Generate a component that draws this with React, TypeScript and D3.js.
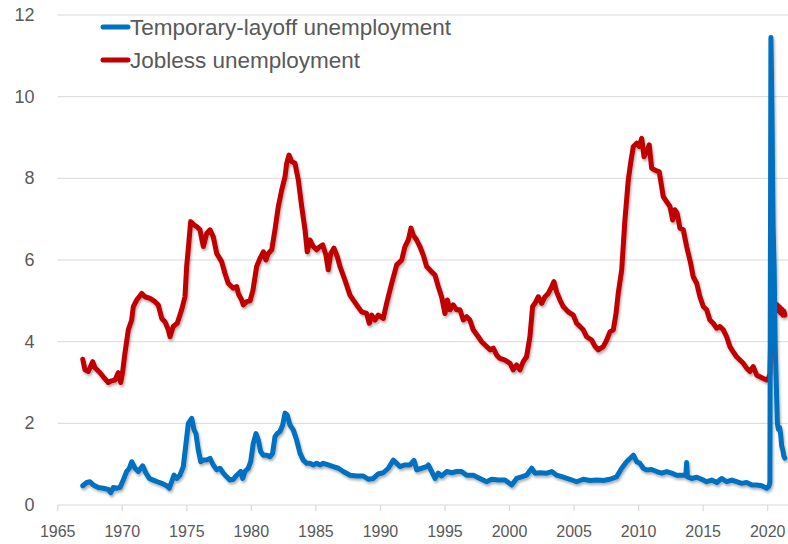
import React from "react";
import * as d3 from "d3";

const seriesNames = ["Temporary-layoff unemployment", "Jobless unemployment"];
const seriesColors = ["#0070c0", "#c00000"];

const xTickYears = [1965, 1970, 1975, 1980, 1985, 1990, 1995, 2000, 2005, 2010, 2015, 2020];
const yTickValues = [0, 2, 4, 6, 8, 10, 12];

const joblessYears = [
  1966.94, 1967.11, 1967.37, 1967.71, 1967.89, 1968.28, 1968.53, 1968.92, 1969.18, 1969.44,
  1969.69, 1969.88, 1970.03, 1970.21, 1970.47, 1970.73, 1970.86, 1971.12, 1971.51, 1971.76,
  1972.15, 1972.54, 1972.79, 1973.06, 1973.31, 1973.57, 1973.7, 1973.95, 1974.26, 1974.6,
  1974.86, 1974.99, 1975.12, 1975.3, 1975.56, 1975.77, 1976.02, 1976.28, 1976.54, 1976.8,
  1977.05, 1977.32, 1977.7, 1977.96, 1978.21, 1978.6, 1978.87, 1978.99, 1979.25, 1979.38,
  1979.64, 1979.9, 1980.12, 1980.41, 1980.67, 1980.93, 1981.13, 1981.31, 1981.58, 1981.83,
  1982.09, 1982.35, 1982.61, 1982.74, 1982.92, 1983.13, 1983.38, 1983.64, 1983.9, 1984.16,
  1984.33, 1984.54, 1984.8, 1985.06, 1985.32, 1985.53, 1985.78, 1985.96, 1986.15, 1986.4,
  1986.66, 1986.87, 1987.25, 1987.64, 1988.16, 1988.55, 1988.93, 1989.14, 1989.32, 1989.58,
  1989.83, 1990.22, 1990.48, 1990.87, 1991.26, 1991.65, 1991.9, 1992.16, 1992.37, 1992.54,
  1992.81, 1993.06, 1993.32, 1993.58, 1993.97, 1994.23, 1994.48, 1994.74, 1995.0, 1995.18,
  1995.39, 1995.64, 1995.9, 1996.16, 1996.42, 1996.68, 1996.93, 1997.19, 1997.58, 1997.84,
  1998.23, 1998.49, 1998.74, 1999.01, 1999.26, 1999.65, 2000.04, 2000.29, 2000.55, 2000.81,
  2001.06, 2001.32, 2001.58, 2001.79, 2001.97, 2002.23, 2002.49, 2002.75, 2003.0, 2003.27,
  2003.44, 2003.65, 2003.91, 2004.16, 2004.55, 2004.94, 2005.2, 2005.46, 2005.71, 2005.98,
  2006.36, 2006.63, 2006.87, 2007.26, 2007.53, 2007.78, 2008.04, 2008.25, 2008.42, 2008.69,
  2008.94, 2009.2, 2009.38, 2009.59, 2009.85, 2010.05, 2010.24, 2010.42, 2010.62, 2010.82,
  2011.01, 2011.26, 2011.6, 2011.91, 2012.17, 2012.43, 2012.64, 2012.81, 2012.99, 2013.2,
  2013.46, 2013.72, 2014.03, 2014.23, 2014.5, 2014.75, 2015.01, 2015.27, 2015.52, 2015.78,
  2016.05, 2016.3, 2016.56, 2016.82, 2017.07, 2017.33, 2017.59, 2017.85, 2018.11, 2018.37,
  2018.63, 2018.88, 2019.15, 2019.4, 2019.66, 2019.92, 2020.04, 2020.17, 2020.25, 2020.33,
  2020.42, 2020.5, 2020.58, 2020.67, 2020.75, 2020.83, 2020.92, 2021.0, 2021.08, 2021.17,
  2021.25, 2021.33,
];
const joblessValues = [
  3.57, 3.31, 3.27, 3.51, 3.36, 3.24, 3.14, 3.0, 3.04, 3.06,
  3.24, 3.0, 3.26, 3.72, 4.29, 4.53, 4.86, 5.02, 5.18, 5.1,
  5.06, 4.98, 4.9, 4.57, 4.49, 4.29, 4.12, 4.37, 4.45, 4.78,
  5.1, 5.84, 6.29, 6.94, 6.86, 6.82, 6.74, 6.33, 6.65, 6.74,
  6.57, 6.16, 5.96, 5.67, 5.43, 5.31, 5.35, 5.18, 5.02, 4.9,
  4.98, 5.0, 5.25, 5.84, 6.04, 6.2, 6.0, 6.16, 6.25, 6.74,
  7.31, 7.71, 8.04, 8.37, 8.57, 8.41, 8.37, 7.96, 7.31, 6.74,
  6.2, 6.49, 6.33, 6.25, 6.33, 6.37, 6.12, 5.76, 6.16, 6.29,
  6.08, 5.84, 5.51, 5.14, 4.9, 4.73, 4.69, 4.45, 4.65, 4.53,
  4.65, 4.57, 4.94, 5.43, 5.88, 6.0, 6.33, 6.49, 6.78, 6.61,
  6.49, 6.33, 6.12, 5.84, 5.71, 5.63, 5.35, 5.1, 4.69, 5.02,
  4.78, 4.9, 4.78, 4.78, 4.53, 4.61, 4.53, 4.29, 4.12, 4.0,
  3.88, 3.8, 3.84, 3.67, 3.59, 3.55, 3.47, 3.31, 3.43, 3.31,
  3.51, 3.63, 4.12, 4.86, 4.94, 5.1, 4.94, 5.1, 5.18, 5.35,
  5.47, 5.22, 5.02, 4.86, 4.73, 4.65, 4.45, 4.37, 4.29, 4.12,
  4.04, 3.88, 3.8, 3.88, 4.04, 4.24, 4.29, 4.69, 5.18, 5.76,
  6.98, 7.96, 8.37, 8.78, 8.86, 8.78, 8.98, 8.53, 8.65, 8.82,
  8.25, 8.2, 8.16, 7.55, 7.43, 7.31, 6.98, 7.23, 7.14, 6.78,
  6.74, 6.33, 5.92, 5.59, 5.43, 5.1, 4.86, 4.78, 4.53, 4.45,
  4.33, 4.37, 4.29, 4.12, 3.88, 3.75, 3.63, 3.55, 3.47, 3.35,
  3.27, 3.39, 3.18, 3.14, 3.1, 3.06, 3.1, 3.2, 4.3, 4.5,
  4.6, 4.85, 4.95, 4.8, 4.9, 4.75, 4.85, 4.7, 4.8, 4.65,
  4.75, 4.65,
];

const layoffYears = [
  1966.94, 1967.25, 1967.5, 1967.76, 1968.14, 1968.53, 1968.92, 1969.11, 1969.31, 1969.57,
  1969.83, 1970.08, 1970.34, 1970.55, 1970.73, 1970.99, 1971.24, 1971.58, 1971.84, 1972.1,
  1972.4, 1972.72, 1973.06, 1973.44, 1973.64, 1973.83, 1974.01, 1974.22, 1974.47, 1974.73,
  1974.94, 1975.12, 1975.38, 1975.56, 1975.71, 1975.89, 1976.08, 1976.28, 1976.54, 1976.8,
  1977.05, 1977.32, 1977.57, 1977.83, 1978.09, 1978.35, 1978.6, 1978.87, 1979.17, 1979.33,
  1979.51, 1979.76, 1979.95, 1980.15, 1980.36, 1980.54, 1980.72, 1980.93, 1981.19, 1981.44,
  1981.65, 1981.83, 1982.01, 1982.22, 1982.43, 1982.61, 1982.78, 1982.99, 1983.25, 1983.51,
  1983.77, 1984.02, 1984.29, 1984.54, 1984.8, 1985.06, 1985.32, 1985.57, 1985.96, 1986.35,
  1986.74, 1987.12, 1987.64, 1988.16, 1988.67, 1989.06, 1989.45, 1989.83, 1990.22, 1990.61,
  1991.0, 1991.26, 1991.51, 1991.9, 1992.28, 1992.6, 1992.81, 1993.2, 1993.58, 1993.71,
  1993.97, 1994.23, 1994.48, 1994.74, 1995.13, 1995.52, 1995.9, 1996.29, 1996.68, 1997.19,
  1997.71, 1998.23, 1998.62, 1999.13, 1999.65, 2000.17, 2000.55, 2000.94, 2001.32, 2001.72,
  2001.97, 2002.36, 2002.88, 2003.27, 2003.65, 2004.16, 2004.68, 2005.2, 2005.71, 2006.23,
  2006.75, 2007.26, 2007.78, 2008.3, 2008.69, 2009.07, 2009.33, 2009.59, 2009.85, 2010.1,
  2010.36, 2010.62, 2011.01, 2011.4, 2011.79, 2012.17, 2012.56, 2012.95, 2013.34, 2013.66,
  2013.72, 2013.78, 2014.11, 2014.5, 2014.88, 2015.27, 2015.66, 2016.05, 2016.43, 2016.82,
  2017.21, 2017.59, 2017.98, 2018.37, 2018.76, 2019.15, 2019.53, 2019.92, 2020.08, 2020.17,
  2020.25, 2020.33, 2020.42, 2020.5, 2020.58, 2020.67, 2020.75, 2020.83, 2020.92, 2021.0,
  2021.08, 2021.17, 2021.25, 2021.33,
];
const layoffValues = [
  0.47, 0.55, 0.57, 0.49, 0.43, 0.41, 0.38, 0.3, 0.43, 0.41,
  0.43, 0.61, 0.82, 0.9, 1.06, 0.9, 0.82, 0.96, 0.78, 0.65,
  0.61, 0.57, 0.53, 0.47, 0.41, 0.57, 0.73, 0.65, 0.73, 0.94,
  1.51, 2.0, 2.12, 1.84, 1.75, 1.35, 1.06, 1.1, 1.1, 1.14,
  0.98, 0.86, 0.9, 0.78, 0.69, 0.61, 0.63, 0.73, 0.82, 0.65,
  0.82, 0.9, 1.06, 1.51, 1.75, 1.59, 1.31, 1.22, 1.22, 1.18,
  1.27, 1.67, 1.75, 1.8, 1.96, 2.25, 2.2, 1.96, 1.84, 1.59,
  1.27, 1.1, 1.02, 1.02, 0.98, 1.02, 0.98, 1.02, 0.98, 0.94,
  0.9, 0.82, 0.73, 0.71, 0.71, 0.63, 0.65, 0.76, 0.79, 0.9,
  1.1, 1.02, 0.94, 0.98, 0.98, 1.09, 0.86, 0.9, 0.94, 0.98,
  0.82, 0.65, 0.78, 0.71, 0.82, 0.79, 0.82, 0.82, 0.73, 0.73,
  0.65, 0.57, 0.63, 0.61, 0.61, 0.49, 0.65, 0.69, 0.73, 0.9,
  0.78, 0.79, 0.78, 0.82, 0.73, 0.68, 0.63, 0.57, 0.63, 0.6,
  0.61, 0.6, 0.63, 0.69, 0.9, 1.06, 1.14, 1.22, 1.06, 1.02,
  0.9, 0.86, 0.87, 0.82, 0.78, 0.82, 0.78, 0.73, 0.73, 0.73,
  1.04, 0.69, 0.65, 0.68, 0.63, 0.57, 0.61, 0.55, 0.65, 0.57,
  0.61, 0.57, 0.53, 0.55, 0.49, 0.49, 0.47, 0.41, 0.45, 0.55,
  11.45, 9.7, 6.8, 5.8, 3.9, 2.9, 2.0, 1.85, 1.9, 1.75,
  1.45, 1.35, 1.2, 1.15,
];

const W = 788;
const H = 544;
const FONT = "'Liberation Sans', Arial, sans-serif";

export default function App() {
  const x = d3.scaleLinear().domain([1965, 2020]).range([57.7, 767.7]);
  const y = d3.scaleLinear().domain([0, 12]).range([505, 15]);
  const plotRight = 788;

  const line = d3
    .line<[number, number]>()
    .x((d) => x(d[0]))
    .y((d) => y(d[1]))
    .curve(d3.curveLinear);

  const jobless: [number, number][] = joblessYears.map((yr, i) => [yr, joblessValues[i]]);
  const layoff: [number, number][] = layoffYears.map((yr, i) => [yr, layoffValues[i]]);

  return (
    <svg
      width={W}
      height={H}
      style={{ position: "absolute", left: 0, top: 0, background: "#fff" }}
      fontFamily={FONT}
    >
      <defs>
        <filter id="shadow" x="-5%" y="-5%" width="110%" height="115%">
          <feDropShadow dx="1.2" dy="2.2" stdDeviation="1.3" floodColor="#000" floodOpacity="0.3" />
        </filter>
      </defs>
      <rect x={0} y={0} width={W} height={H} fill="#fff" />
      {yTickValues.map((v) => (
        <g key={"gy" + v}>
          {v > 0 && (
            <line x1={x(1965)} x2={plotRight} y1={y(v)} y2={y(v)} stroke="#d9d9d9" strokeWidth={1} />
          )}
          <text
            x={34.5}
            y={y(v)}
            textAnchor="end"
            dominantBaseline="central"
            fontSize={18}
            fill="#595959"
          >
            {v}
          </text>
        </g>
      ))}
      <line x1={x(1965)} x2={plotRight} y1={y(0)} y2={y(0)} stroke="#d9d9d9" strokeWidth={1.2} />
      {xTickYears.map((yr) => (
        <g key={"gx" + yr}>
          <line x1={x(yr)} x2={x(yr)} y1={y(0)} y2={y(0) + 6} stroke="#d9d9d9" strokeWidth={1.2} />
          <text x={x(yr)} y={536.5} textAnchor="middle" fontSize={16} fill="#595959">
            {yr}
          </text>
        </g>
      ))}
      <g filter="url(#shadow)">
        <path
          d={line(jobless) || ""}
          fill="none"
          stroke={seriesColors[1]}
          strokeWidth={5}
          strokeLinejoin="round"
          strokeLinecap="round"
        />
        <path
          d={line(layoff) || ""}
          fill="none"
          stroke={seriesColors[0]}
          strokeWidth={5}
          strokeLinejoin="round"
          strokeLinecap="round"
        />
      </g>
      {seriesNames.map((name, i) => (
        <g key={name}>
          <line
            x1={103}
            x2={128}
            y1={27 + i * 33}
            y2={27 + i * 33}
            stroke={seriesColors[i]}
            strokeWidth={5}
            strokeLinecap="round"
          />
          <text x={130} y={35 + i * 33} fontSize={22.5} fill="#595959">
            {name}
          </text>
        </g>
      ))}
    </svg>
  );
}
